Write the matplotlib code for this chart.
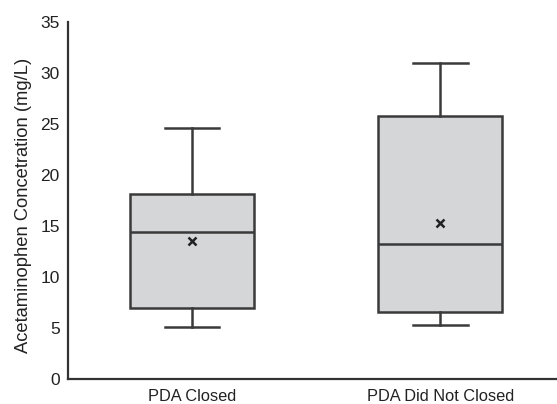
import matplotlib
matplotlib.use("Agg")
import matplotlib.pyplot as plt

plt.rcParams['font.family'] = ['Liberation Sans', 'DejaVu Sans']

categories = ["PDA Closed", "PDA Did Not Closed"]
whisker_low = [5.1, 5.3]
q1 = [7.0, 6.6]
median = [14.4, 13.2]
q3 = [18.1, 25.8]
whisker_high = [24.6, 31.0]
mean = [13.5, 15.3]
yticks = [0, 5, 10, 15, 20, 25, 30, 35]

stats = []
for i, c in enumerate(categories):
    stats.append(dict(label=c, whislo=whisker_low[i], q1=q1[i], med=median[i],
                      q3=q3[i], whishi=whisker_high[i], mean=mean[i], fliers=[]))

fig = plt.figure(figsize=(5.57, 4.04), dpi=100)
ax = fig.add_axes([68/557, 1 - 379/404, (557-68)/557, (379-22)/404])

edge = '#3a3a3a'
lw = 1.8
ax.bxp(stats, positions=[1, 2], widths=0.5, patch_artist=True, showmeans=True,
       showfliers=False,
       boxprops=dict(facecolor='#d5d6d8', edgecolor=edge, linewidth=lw),
       medianprops=dict(color=edge, linewidth=lw),
       whiskerprops=dict(color=edge, linewidth=lw),
       capprops=dict(color=edge, linewidth=lw),
       capwidths=0.22,
       meanprops=dict(marker='x', markeredgecolor='#222222', markersize=5.5, markeredgewidth=1.8))

ax.set_xlim(0.5, 2.47)
ax.set_ylim(0, 35)
ax.set_yticks(yticks)
ax.set_xticks([1, 2])
ax.set_xticklabels(categories)
ax.tick_params(axis='y', length=0, labelsize=12.5, colors='#222222', pad=6)
ax.tick_params(axis='x', length=0, labelsize=11.8, colors='#222222', pad=7.5)
ax.set_ylabel("Acetaminophen Concetration (mg/L)", fontsize=13.2, color='#222222')
ax.yaxis.set_label_coords(-0.074, 0.487)
for s in ['top', 'right']:
    ax.spines[s].set_visible(False)
for s in ['left', 'bottom']:
    ax.spines[s].set_color('#333333')
    ax.spines[s].set_linewidth(1.6)

fig.savefig("out.png", dpi=100)
